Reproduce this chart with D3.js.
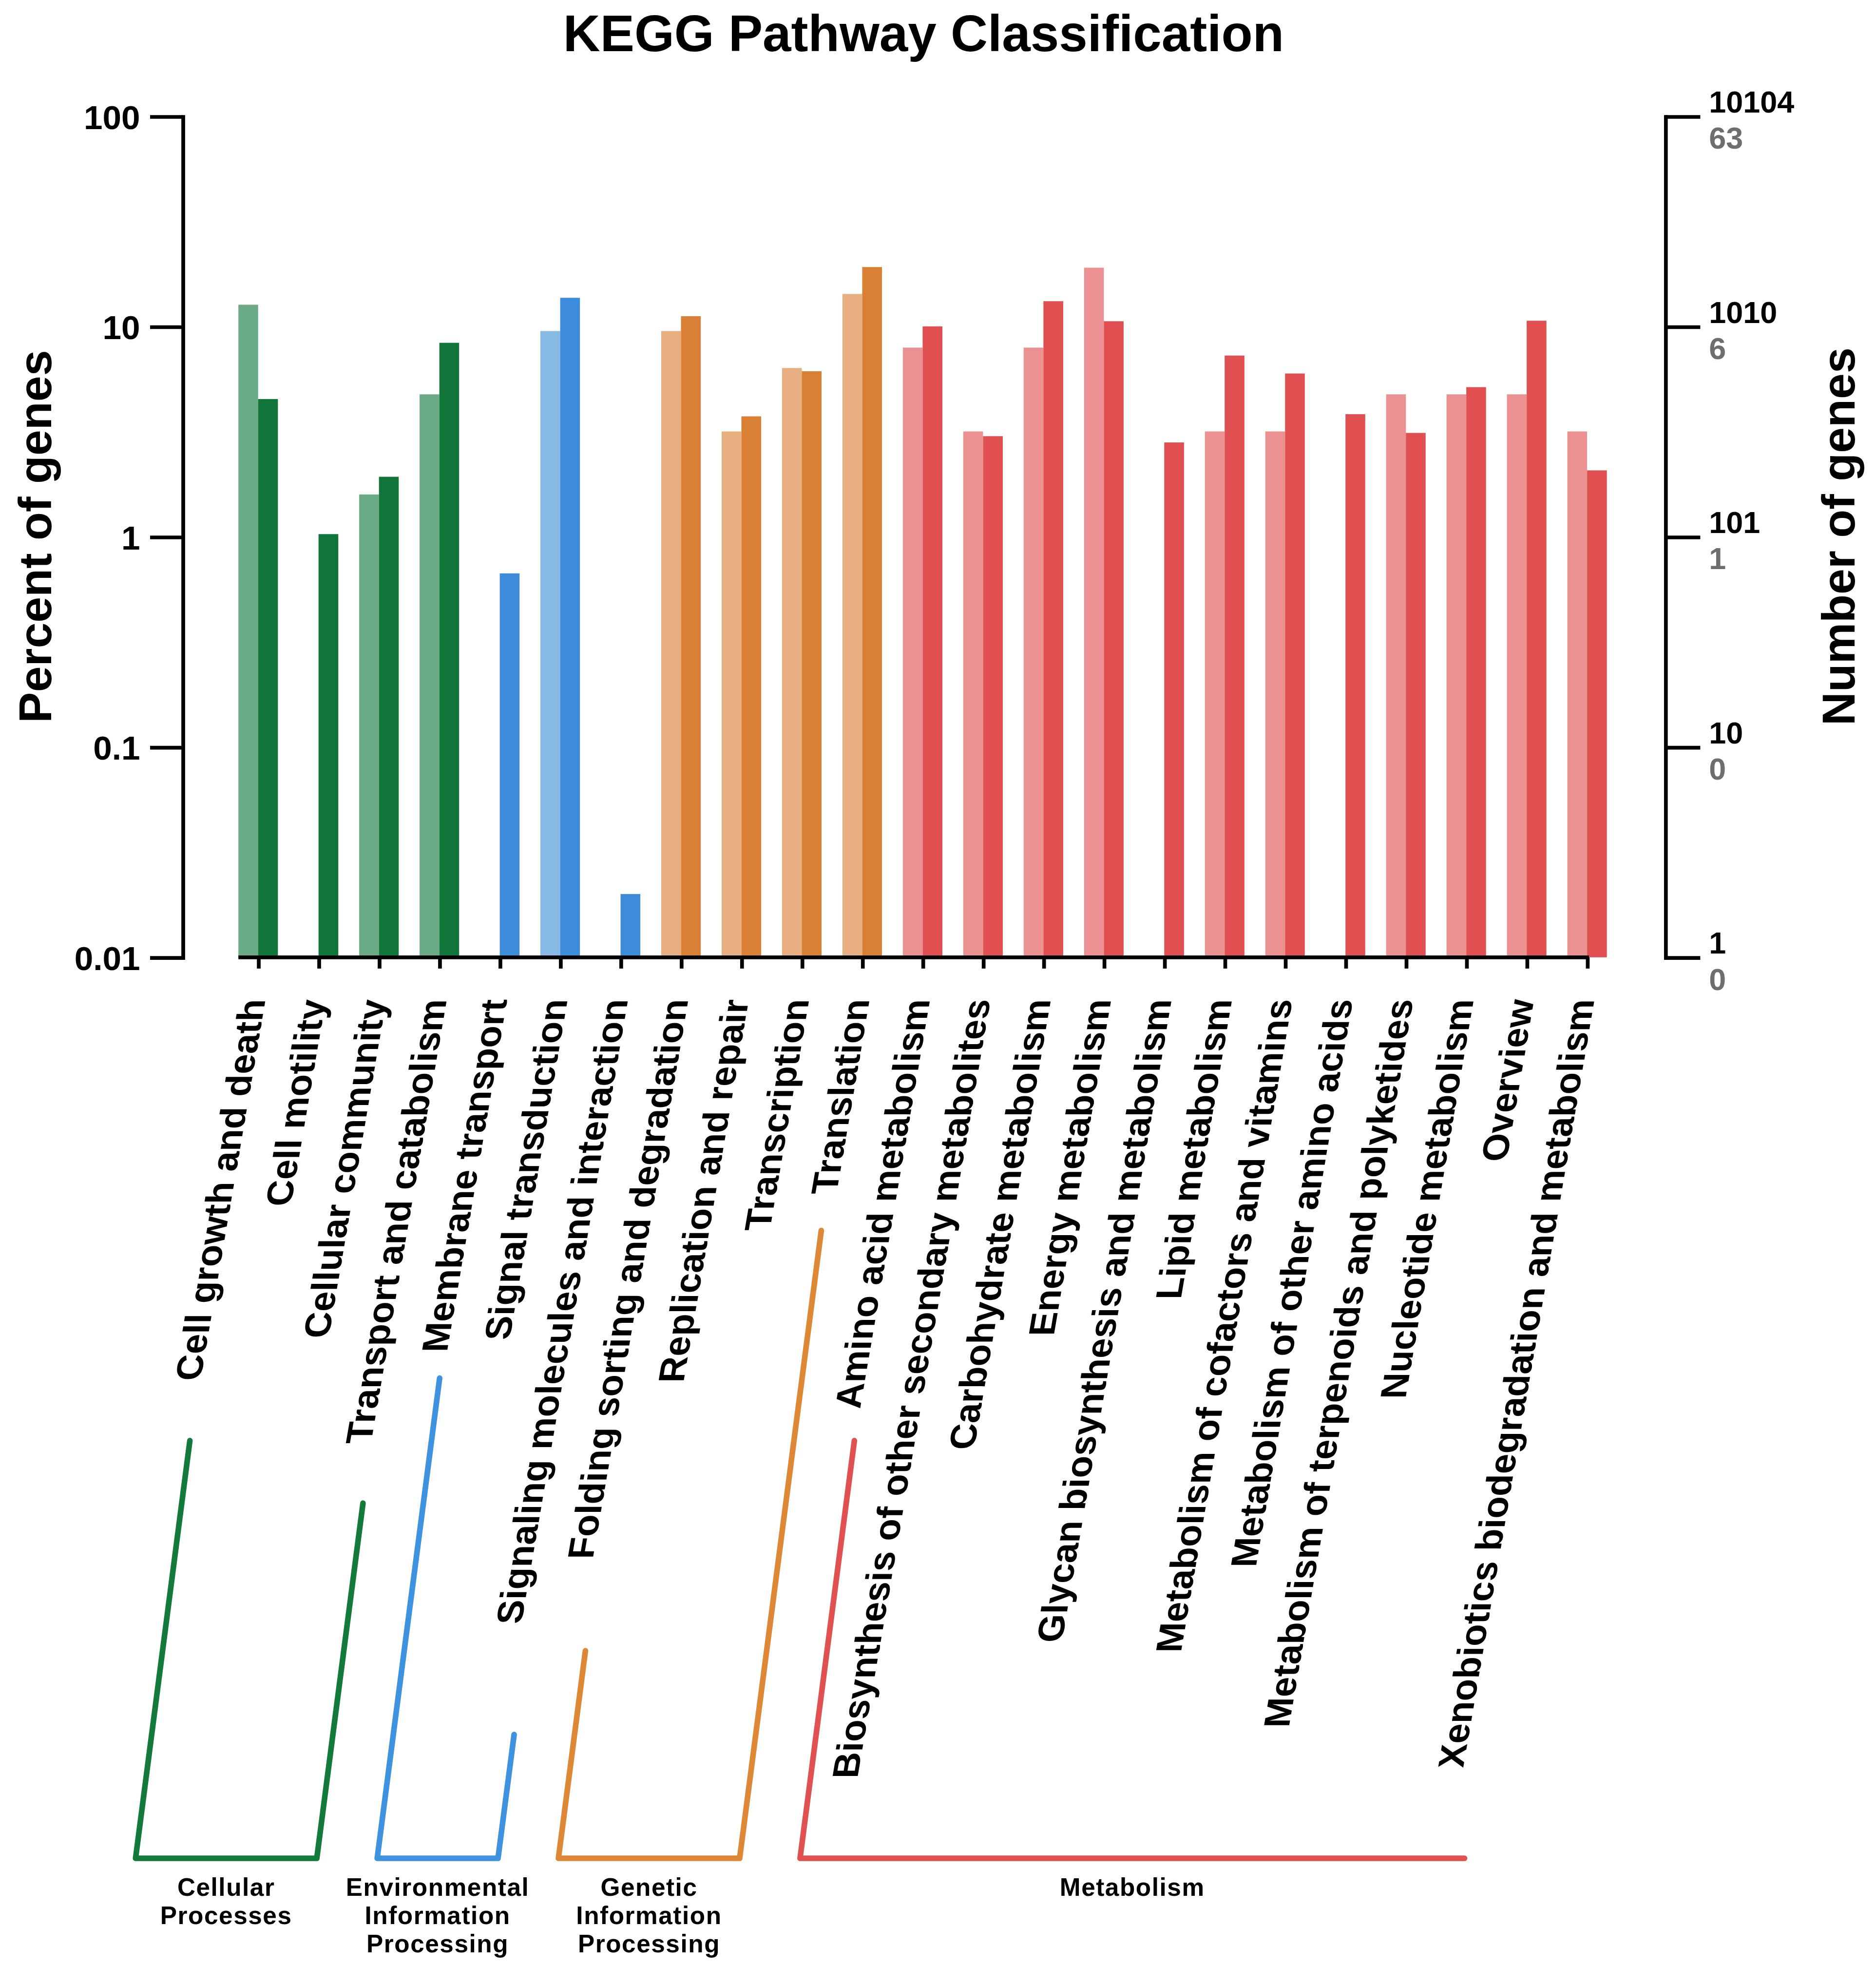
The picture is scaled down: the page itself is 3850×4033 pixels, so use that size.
<!DOCTYPE html>
<html lang='en'>
<meta charset='utf-8'>
<style>
  body{ margin: 0; background: #fff; }
  svg{ display: block; }
  text{ font-family: 'Liberation Sans', Arial, Helvetica, sans-serif; font-weight: bold; }
</style>
<body>
<svg id='chart' width='3850' height='4033' viewBox='0 0 1500 1571.3'></svg>
<script src='https://d3js.org/d3.v7.min.js'></script>
<script>
  // pathway classes, in drawing order
  const categories = [
    'Cell growth and death', 'Cell motility', 'Cellular community', 'Transport and catabolism',
    'Membrane transport', 'Signal transduction', 'Signaling molecules and interaction',
    'Folding sorting and degradation', 'Replication and repair', 'Transcription', 'Translation',
    'Amino acid metabolism', 'Biosynthesis of other secondary metabolites', 'Carbohydrate metabolism',
    'Energy metabolism', 'Glycan biosynthesis and metabolism', 'Lipid metabolism',
    'Metabolism of cofactors and vitamins', 'Metabolism of other amino acids',
    'Metabolism of terpenoids and polyketides', 'Nucleotide metabolism', 'Overview',
    'Xenobiotics biodegradation and metabolism'
  ]
  // index into groupNames for each category
  const groupOf = [0, 0, 0, 0, 1, 1, 1, 2, 2, 2, 2, 3, 3, 3, 3, 3, 3, 3, 3, 3, 3, 3, 3]
  // percent of genes, light (left) bar and dark (right) bar; null = no bar
  const percentLight = [12.7, null, 1.59, 4.76, null, 9.52, null, 9.52, 3.17, 6.35, 14.29,
    7.94, 3.17, 7.94, 19.05, null, 3.17, 3.17, null, 4.76, 4.76, 4.76, 3.17]
  const percentDark = [4.52, 1.03, 1.93, 8.37, 0.67, 13.7, 0.02, 11.2, 3.74, 6.13, 19.18,
    10.02, 3.01, 13.2, 10.6, 2.81, 7.28, 5.98, 3.83, 3.12, 5.15, 10.66, 2.07]

  const groupNames = [
    ['Cellular', 'Processes'],
    ['Environmental', 'Information', 'Processing'],
    ['Genetic', 'Information', 'Processing'],
    ['Metabolism']
  ]

  const leftTicks = [0.01, 0.1, 1, 10, 100]
  const leftTickLabels = ['0.01', '0.1', '1', '10', '100']
  const rightTicks = [1, 10, 100, 1000, 10000]
  const rightTickTop = ['1', '10', '101', '1010', '10104']
  const rightTickBottom = ['0', '0', '1', '6', '63']

  // styling / layout
  const groupColors = [
    {light: '#6aab85', dark: '#117539', line: '#137a3c'},
    {light: '#87b9e6', dark: '#3d8cda', line: '#3f92de'},
    {light: '#e8b080', dark: '#da8034', line: '#dd8836'},
    {light: '#ec9191', dark: '#e05050', line: '#e05252'}
  ]
  // top y of the left / right riser of each bracket (null = no riser)
  const bracketTops = [[1152, 1202], [1102, 1387], [1320, 984], [1152, null]]

  const svg = d3.select('#chart')
  const axisL = 146
  const axisR = 1331.5
  const barW = 15.8

  const y = d3.scaleLog().domain([0.01, 100]).range([765.5, 93])
  const yR = d3.scaleLog().domain([1, 10000]).range([765.5, 93])
  const x = d3.scalePoint().domain(categories).range([206.4, 1269])

  // title
  svg.append('text')
    .attr('x', 738.5).attr('y', 41)
    .attr('text-anchor', 'middle')
    .style('font-size', '41px')
    .text('KEGG Pathway Classification')

  // bars
  const rows = categories.map((c, i) => ({c, g: groupOf[i], light: percentLight[i], dark: percentDark[i]}))
  const barG = svg.append('g')
  barG.selectAll('rect.light').data(rows.filter(d => d.light != null)).join('rect')
    .attr('class', 'light')
    .attr('x', d => x(d.c) - barW)
    .attr('width', barW)
    .attr('y', d => y(d.light))
    .attr('height', d => y(0.01) - y(d.light))
    .attr('fill', d => groupColors[d.g].light)
  barG.selectAll('rect.dark').data(rows.filter(d => d.dark != null)).join('rect')
    .attr('class', 'dark')
    .attr('x', d => x(d.c))
    .attr('width', barW)
    .attr('y', d => y(d.dark))
    .attr('height', d => y(0.01) - y(d.dark))
    .attr('fill', d => groupColors[d.g].dark)

  // left axis
  const gL = svg.append('g').attr('transform', `translate(${axisL},0)`)
    .call(d3.axisLeft(y).tickValues(leftTicks)
      .tickFormat((d, i) => leftTickLabels[i])
      .tickSize(26).tickSizeOuter(0).tickPadding(8))
  gL.attr('font-family', null).attr('font-size', null)
  gL.selectAll('path, line').attr('stroke', '#000').attr('stroke-width', 3)
  gL.select('.domain').attr('stroke-linecap', 'square')
  gL.selectAll('text').attr('fill', '#000').attr('dy', '0.36em').style('font-size', '27px')

  // right axis with two-line labels
  const gR = svg.append('g').attr('transform', `translate(${axisR},0)`)
    .call(d3.axisRight(yR).tickValues(rightTicks)
      .tickFormat(() => '').tickSize(28).tickSizeOuter(0))
  gR.attr('font-family', null).attr('font-size', null)
  gR.selectAll('path, line').attr('stroke', '#000').attr('stroke-width', 3)
  gR.select('.domain').attr('stroke-linecap', 'square')
  gR.selectAll('.tick').each(function (d, i) {
    const t = d3.select(this)
    t.select('text').remove()
    t.append('text').attr('x', 35).attr('y', -3.5)
      .attr('fill', '#000').style('font-size', '24.5px').text(rightTickTop[i])
    t.append('text').attr('x', 35).attr('y', 25.5)
      .attr('fill', '#6e6e6e').style('font-size', '24.5px').text(rightTickBottom[i])
  })

  // bottom axis
  const gX = svg.append('g').attr('transform', `translate(0,${y(0.01)})`)
    .call(d3.axisBottom(x).tickSize(9).tickSizeOuter(0).tickFormat(() => ''))
  gX.select('.domain')
    .attr('d', `M${x(categories[0]) - barW},0H${x(categories[categories.length - 1]) + 1.5}`)
  gX.selectAll('path, line').attr('stroke', '#000').attr('stroke-width', 3)

  // slanted category labels
  svg.append('g').selectAll('text').data(categories).join('text')
    .attr('transform', d => `translate(${x(d) + 6},799) skewX(-9.7) rotate(-90)`)
    .attr('text-anchor', 'end')
    .attr('fill', '#000')
    .style('font-size', '29.2px')
    .text(d => d)

  // axis titles
  svg.append('text')
    .attr('transform', 'translate(41,429) rotate(-90)')
    .attr('text-anchor', 'middle')
    .style('font-size', '37px')
    .text('Percent of genes')
  svg.append('text')
    .attr('transform', 'translate(1483,429) rotate(-90)')
    .attr('text-anchor', 'middle')
    .style('font-size', '37px')
    .text('Number of genes')

  // group brackets
  const slant = 0.13
  const baseY = 1486
  const bracketG = svg.append('g')
  groupNames.forEach((lines, gi) => {
    const members = categories.filter((c, i) => groupOf[i] === gi)
    const xl = x(members[0]) - 98
    const xr = x(members[members.length - 1]) - 98
    const [tl, tr] = bracketTops[gi]
    let d = `M${xl + (baseY - tl) * slant},${tl}L${xl},${baseY}L${xr},${baseY}`
    if (tr != null) d += `L${xr + (baseY - tr) * slant},${tr}`
    bracketG.append('path')
      .attr('d', d)
      .attr('fill', 'none')
      .attr('stroke', groupColors[gi].line)
      .attr('stroke-width', 4.5)
      .attr('stroke-linecap', 'round')
      .attr('stroke-linejoin', 'round')

    lines.forEach((ln, li) => {
      bracketG.append('text')
        .attr('x', (xl + xr) / 2)
        .attr('y', 1516 + li * 22.5)
        .attr('text-anchor', 'middle')
        .attr('fill', '#000')
        .style('font-size', '20px')
        .style('letter-spacing', '0.6px')
        .text(ln)
    })
  })
</script>
</body>
</html>
